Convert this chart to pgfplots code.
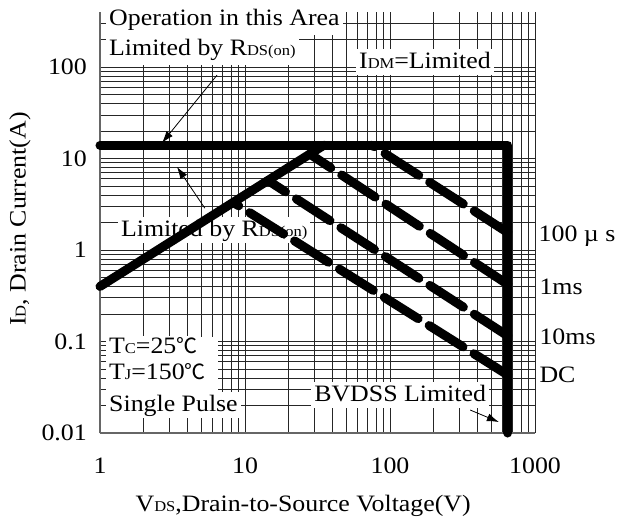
\documentclass[border=0pt]{standalone}
\usepackage{fontspec}
\setmainfont[FakeStretch=1.1]{Liberation Serif}
\newfontfamily\cjk{Noto Sans CJK SC}
\usepackage{pgfplots}
\pgfplotsset{compat=1.18}
\usetikzlibrary{arrows.meta}
\newcommand\sm[1]{{\fontsize{15bp}{15bp}\selectfont #1}}
\newcommand\degc{{\cjk\fontsize{21bp}{21bp}\selectfont ℃}}
\begin{document}
\fontsize{23.5bp}{28bp}\selectfont
\begin{tikzpicture}[
  lbl/.style={fill=white, inner xsep=3bp, inner ysep=2bp, text height=17bp, text depth=5bp},
  thk/.style={black, line width=9bp, line cap=round, line join=round},
  dsh/.style={thk, dash pattern=on 40bp off 13bp},
]
\begin{axis}[
  scale only axis, width=435bp, height=421bp,
  xmode=log, ymode=log, xmin=1, xmax=1000, ymin=0.01, ymax=400,
  axis lines*=left, axis line style={black!60, line width=1.6bp},
  xtick={1,10,100,1000}, xticklabels={1,10,100,1000},
  ytick={0.01,0.1,1,10,100}, yticklabels={0.01,0.1,1,10,100},
  minor xtick={2,3,4,5,6,7,8,9,20,30,40,50,60,70,80,90,200,300,400,500,600,700,800,900},
  minor ytick={0.02,0.03,0.04,0.05,0.06,0.07,0.08,0.09,0.2,0.3,0.4,0.5,0.6,0.7,0.8,0.9,2,3,4,5,6,7,8,9,20,30,40,50,60,70,80,90,200,300},
  grid=both,
  major grid style={black!85, line width=0.8bp},
  minor grid style={black!85, line width=0.8bp},
  major tick length=0pt, minor tick length=0pt,
  xticklabel style={anchor=north, inner sep=0pt, yshift=-25bp},
  yticklabel style={anchor=east, inner sep=0pt, xshift=-13bp},
  xlabel={V\sm{DS},Drain-to-Source Voltage(V)},
  ylabel={I\sm{D}, Drain Current(A)},
  every axis x label/.style={at={(axis description cs:0.467,-0.172)}, anchor=center},
  every axis y label/.style={at={(axis description cs:-0.184,0.508)}, rotate=90, anchor=center},
  clip=false,
]
\fill[white] (rel axis cs:0.0138,0.228) rectangle (rel axis cs:0.271,0.05);
\node[lbl, anchor=west, inner ysep=4bp] at (rel axis cs:0.0138,0.981) {Operation in this Area};
\node[lbl, anchor=west, inner ysep=4bp] at (rel axis cs:0.0138,0.910) {Limited by R\sm{DS(on)}};
\node[lbl, anchor=center] at (rel axis cs:0.747,0.881) {I\sm{DM}=Limited};
\node[lbl, anchor=west] at (rel axis cs:0.041,0.482) {Limited by R\sm{DS(on)}};
\node[lbl, anchor=center] at (rel axis cs:0.690,0.090) {BVDSS Limited};
\node[lbl, anchor=west, inner ysep=0pt] at (rel axis cs:0.0138,0.204) {T\sm{C}=25\degc};
\node[lbl, anchor=west, inner ysep=0pt] at (rel axis cs:0.0138,0.1425) {T\sm{J}=150\degc};
\node[lbl, anchor=west] at (rel axis cs:0.0138,0.0665) {Single Pulse};
\node[anchor=west, inner sep=0pt] at (rel axis cs:1.008,0.468) {100 µ s};
\node[anchor=west, inner sep=0pt] at (rel axis cs:1.010,0.347) {1ms};
\node[anchor=west, inner sep=0pt] at (rel axis cs:1.010,0.228) {10ms};
\node[anchor=west, inner sep=0pt] at (rel axis cs:1.010,0.138) {DC};

\addplot[thk, mark=none] coordinates {(1,14) (650,14) (650,0.01)};
\addplot[thk, mark=none] coordinates {(1,0.40) (35,14)};
\addplot[dsh, mark=none] coordinates {(650,1.55) (75,14)};
\addplot[dsh, mark=none] coordinates {(650,0.42) (28,11.2)};
\addplot[dsh, mark=none] coordinates {(650,0.115) (14.4,5.76)};
\addplot[dsh, mark=none] coordinates {(650,0.043) (8.3,3.32)};

\draw[black, line width=0.8bp, -{Latex[length=12bp,width=8bp]}] (rel axis cs:0.269,0.850) -- (rel axis cs:0.1425,0.689);
\draw[black, line width=0.8bp, -{Latex[length=12bp,width=8bp]}] (rel axis cs:0.241,0.534) -- (rel axis cs:0.177,0.632);
\draw[black, line width=0.8bp, -{Latex[length=12bp,width=8bp]}] (rel axis cs:0.851,0.0546) -- (rel axis cs:0.917,0.026);
\end{axis}
\pgfresetboundingbox
\path[shift={(current axis.south west)}] (-100bp,-89bp) rectangle (517bp,433bp);
\end{tikzpicture}
\end{document}
